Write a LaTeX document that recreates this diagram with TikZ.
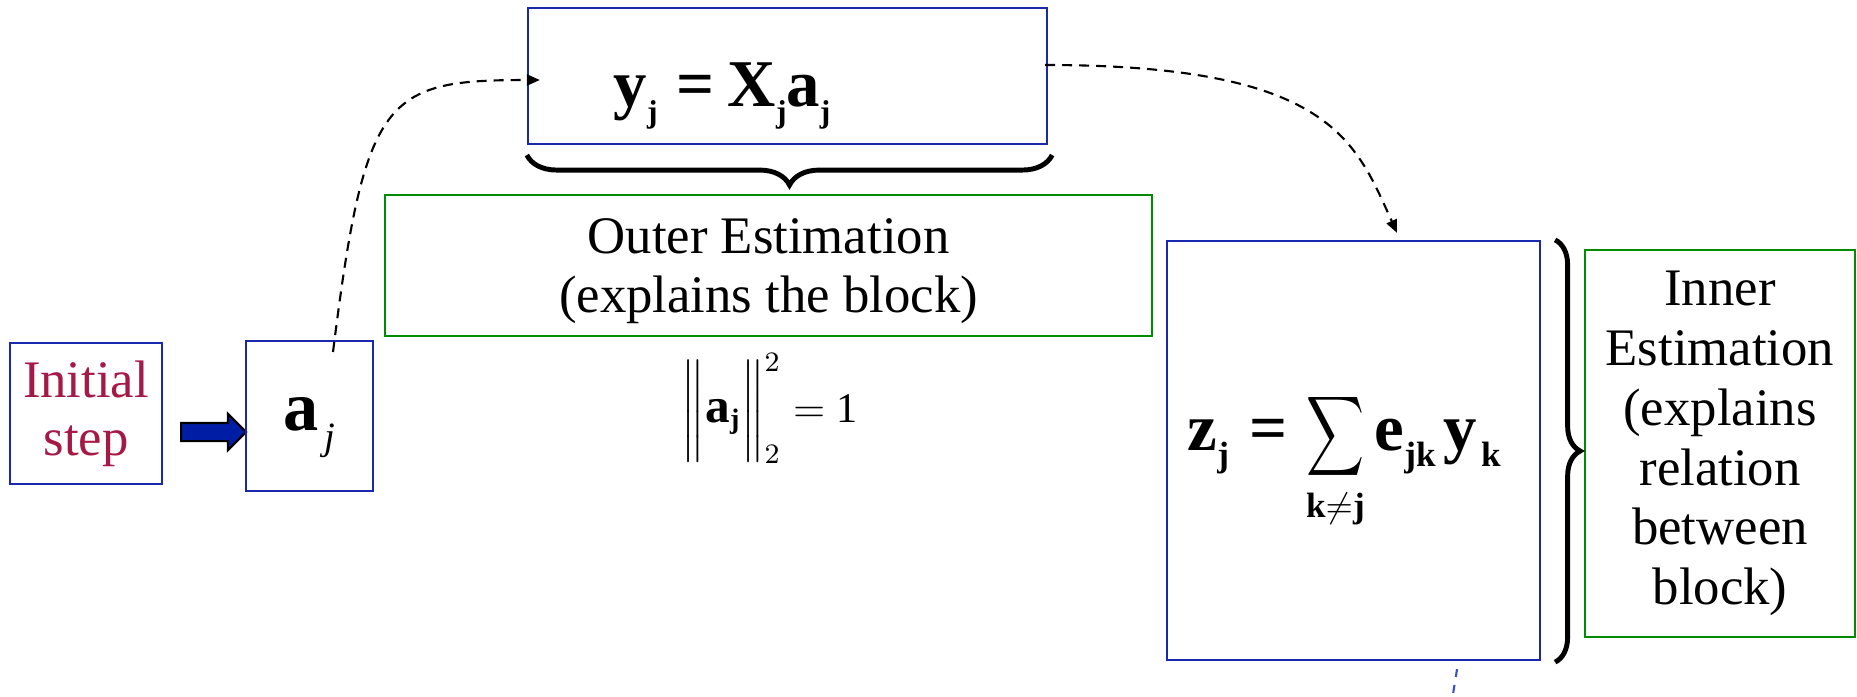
\documentclass[tikz,border=0pt]{standalone}
\usepackage{fontspec}
\setmainfont{Liberation Serif}
\usepackage{amsmath}
\usepackage{graphicx}
\usetikzlibrary{arrows.meta, positioning, shapes.arrows, decorations.pathreplacing}
\definecolor{boxblue}{RGB}{25,40,175}
\definecolor{boxgreen}{RGB}{0,140,0}
\definecolor{stepred}{RGB}{165,25,70}
\definecolor{arrowblue}{RGB}{0,30,165}
\definecolor{lineblue}{RGB}{60,80,200}
\newcommand{\dn}[3]{\raisebox{-#1}{\fontsize{#2}{#2}\selectfont #3}}

\begin{document}
\begin{tikzpicture}[
  x=0.01cm, y=-0.01cm,
  bluebox/.style={rectangle, draw=boxblue, line width=0.6pt, inner sep=0pt, outer sep=0pt},
  greenbox/.style={rectangle, draw=boxgreen, line width=0.6pt, inner sep=0pt, outer sep=0pt,
              align=center, font=\fontsize{15}{17}\selectfont},
  formula/.style={anchor=base west, inner sep=0pt, font=\fontsize{19}{19}\selectfont\bfseries},
  dasharrow/.style={dash pattern=on 0.1cm off 0.07cm, line width=0.6pt,
              -{Triangle[length=0.13cm, width=0.11cm]}},
  bracket/.style={decorate, decoration={brace, amplitude=#1}, line width=1.4pt},
  bigarrow/.style={single arrow, draw=black, fill=arrowblue, line width=0.6pt, minimum height=0.65cm,
              minimum width=0.34cm, single arrow head extend=0.09cm, inner sep=0.08cm}
]
\useasboundingbox (0,0) rectangle (1857,696);

\node[bluebox, minimum width=1.52cm, minimum height=1.41cm, align=center, text=stepred,
      font=\fontsize{15}{16.5}\selectfont] (init) at (86,413.5) {Initial\\step};
\node[bigarrow, anchor=tail] (arr) at (180,432) {};
\node[bluebox, minimum width=1.27cm, minimum height=1.50cm, text height=0.32cm, text depth=0.04cm]
      (aj) at (309.5,416) {\fontsize{20}{20}\selectfont\bfseries a\hspace{0.06cm}\dn{0.19cm}{11pt}{\normalfont\itshape j}};

\node[bluebox, minimum width=5.19cm, minimum height=1.36cm] (yeq) at (787.5,76) {};
\node[formula] (ytext) at (613,106)
      {y\dn{0.16cm}{9pt}{j}\hspace{0.19cm}=\hspace{0.13cm}X\dn{0.16cm}{9pt}{j}a\dn{0.16cm}{9pt}{j}};

\node[greenbox, minimum width=7.67cm, minimum height=1.41cm] (outer) at (768.5,265.5)
      {\rule{0pt}{0.46cm}Outer Estimation\\(explains the block)};
\node[anchor=base, inner sep=0pt, font=\fontsize{12}{12}\selectfont] (norm) at (770,422)
      {$\bigg\|\text{\fontsize{14}{14}\selectfont\bfseries a}_{\text{\fontsize{8}{8}\selectfont\bfseries j}}\bigg\|_{2}^{2} = \text{1}$};

\node[bluebox, minimum width=3.73cm, minimum height=4.19cm] (zeq) at (1353.5,450.5) {};
\node[formula] (ztext) at (1187,450)
      {z\dn{0.16cm}{10pt}{j}\hspace{0.2cm}=\hspace{0.19cm}$\mathop{\resizebox*{0.58cm}{0.89cm}{$\displaystyle\sum$}}\limits_{\text{\fontsize{10}{10}\selectfont\bfseries k$\neq$j}}$\hspace{0.1cm}e\dn{0.16cm}{10pt}{jk}\hspace{0.08cm}y\hspace{0.04cm}\dn{0.16cm}{10pt}{k}};

\node[greenbox, minimum width=2.70cm, minimum height=3.87cm] (inner) at (1720,443.5)
      {Inner\\Estimation\\(explains\\relation\\between\\block)};

% braces
\draw[bracket=0.3cm] ([xshift=0.05cm,yshift=-0.11cm]yeq.south east) -- ([xshift=-0.01cm,yshift=-0.11cm]yeq.south west);
\draw[bracket=0.25cm] ([xshift=0.15cm,yshift=0.01cm]zeq.north east) -- ([xshift=0.15cm,yshift=-0.02cm]zeq.south east);

% dashed links
\draw[dasharrow] ([xshift=0.235cm,yshift=-0.11cm]aj.north) .. controls (365,95) and (385,80) .. ([xshift=0.12cm,yshift=-0.04cm]yeq.west);
\draw[dasharrow] ([xshift=-0.02cm,yshift=0.11cm]yeq.east) .. controls (1330,65) and (1355,140) .. ([xshift=0.435cm,yshift=0.08cm]zeq.north);
\coordinate (zout) at (1452,700);
\draw[lineblue, line width=0.6pt, dash pattern=on 0.08cm off 0.08cm] ([xshift=1.035cm,yshift=-0.09cm]zeq.south) -- (zout);
\end{tikzpicture}
\end{document}
